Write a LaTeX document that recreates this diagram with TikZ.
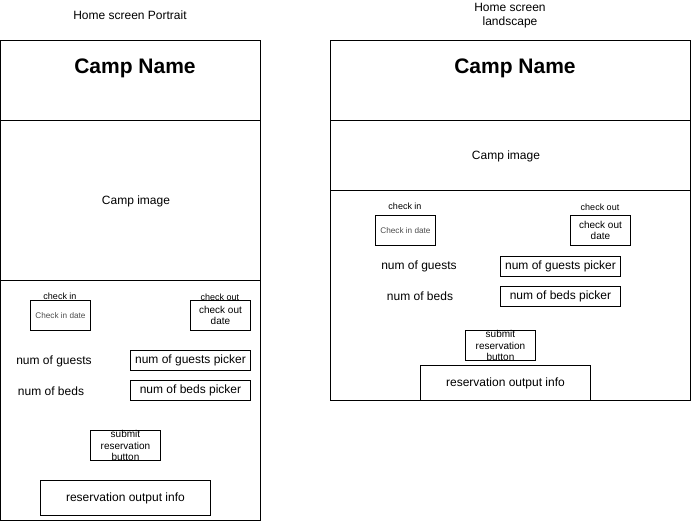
\documentclass[tikz,border=0pt]{standalone}
\usepackage{fontspec}
\setmainfont{Liberation Sans}
\begin{document}
\begin{tikzpicture}[x=1pt,y=-1pt,line width=0.9pt,
    boxed/.style={draw,inner sep=0pt,anchor=north west},
    lbl/.style={font=\fontsize{12}{14}\selectfont,align=center},
    small/.style={font=\fontsize{9}{10.5}\selectfont,align=center},
    boxtxt/.style={font=\fontsize{10}{11.5}\selectfont,align=center},
    tiny/.style={font=\fontsize{8.2}{9}\selectfont,text=black!70},
    camp/.style={font=\fontsize{21}{24}\selectfont\bfseries}]
  \useasboundingbox (0,0) rectangle (691,521);
  \node[lbl] (ptitle) at (130,15) {Home screen Portrait};
  \node[lbl] (ltitle) at (510,16) {Home screen\\landscape};
  \node[boxed,minimum width=260pt,minimum height=480pt] (port) at (0,40) {};
  \node[boxed,minimum width=360pt,minimum height=360pt] (land) at (330,40) {};
  \begin{scope}
    \draw (0,120) -- (260,120);
    \draw (0,280) -- (260,280);
    \draw (330,120) -- (690,120);
    \draw (330,190) -- (690,190);
  \end{scope}
  \node[camp] (pname) at (135,68) {Camp Name};
  \node[camp] (lname) at (515,68) {Camp Name};
  \node[lbl] (pimg) at (136,201) {Camp image};
  \node[lbl] (limg) at (506,156) {Camp image};
  \node[small] (pinlbl) at (60,296) {check in};
  \node[boxed,minimum width=60pt,minimum height=30pt,tiny] (pin) at (30,300) {Check in date};
  \node[small] (poutlbl) at (220,297) {check out};
  \node[boxed,minimum width=60pt,minimum height=30pt,boxtxt] (pout) at (190,300) {check out\\date};
  \node[lbl] (pguests) at (54,361) {num of guests};
  \node[boxed,minimum width=120pt,minimum height=20pt,lbl] (pgpick) at (130,350) {num of guests picker};
  \node[lbl] (pbeds) at (51,391) {num of beds};
  \node[boxed,minimum width=120pt,minimum height=20pt,lbl] (pbpick) at (130,380) {num of beds picker};
  \node[boxed,minimum width=70pt,minimum height=30pt] (psub) at (90,430) {};
  \node[boxtxt] (psubtxt) at (psub) {submit\\reservation\\button};
  \node[boxed,minimum width=170pt,minimum height=35pt,lbl] (pout2) at (40,480) {reservation output info};
  \node[small] (linlbl) at (405,206) {check in};
  \node[boxed,minimum width=60pt,minimum height=30pt,tiny] (lin) at (375,215) {Check in date};
  \node[small] (loutlbl) at (600,207) {check out};
  \node[boxed,minimum width=60pt,minimum height=30pt,boxtxt] (lout) at (570,215) {check out\\date};
  \node[lbl] (lguests) at (419,266) {num of guests};
  \node[boxed,minimum width=120pt,minimum height=20pt,lbl] (lgpick) at (500,256) {num of guests picker};
  \node[lbl] (lbeds) at (420,296) {num of beds};
  \node[boxed,minimum width=120pt,minimum height=20pt,lbl] (lbpick) at (500,286) {num of beds picker};
  \node[boxed,minimum width=70pt,minimum height=30pt] (lsub) at (465,330) {};
  \node[boxtxt] (lsubtxt) at (lsub) {submit\\reservation\\button};
  \node[boxed,minimum width=170pt,minimum height=35pt,lbl] (lout2) at (420,365) {reservation output info};
\end{tikzpicture}
\end{document}
